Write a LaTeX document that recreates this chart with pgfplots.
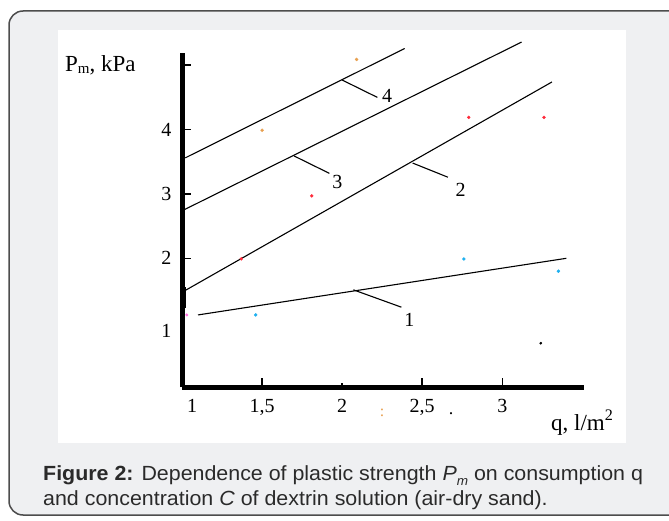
\documentclass[border=0pt]{standalone}
\usepackage{fontspec}
\setmainfont{Liberation Serif}
\newfontfamily\capfont{Liberation Sans}
\usepackage{pgfplots}
\pgfplotsset{compat=1.18}
\definecolor{panelgray}{HTML}{EFF0F2}
\definecolor{borderg}{HTML}{4D4D4D}
\definecolor{dotorange}{HTML}{E8A050}
\definecolor{dotred}{HTML}{FF2A3A}
\definecolor{dotcyan}{HTML}{1EB0F0}
\definecolor{dotpink}{HTML}{FF70E0}
\definecolor{captext}{HTML}{2A2A2A}
\begin{document}
\begin{tikzpicture}[x=1pt,y=1pt]
\useasboundingbox (0,0) rectangle (669,520);
\fill[white] (0,0) rectangle (669,520);
\begin{scope}
\clip (0,0) rectangle (669,520);
\draw[borderg, line width=1.5pt, fill=panelgray, rounded corners=14pt] (9,5) rectangle (720,509);
\end{scope}
\fill[white] (58,77) rectangle (626,490);
\begin{axis}[
  at={(182pt,133pt)}, anchor=south west,
  scale only axis, width=402pt, height=334pt,
  xmin=1, xmax=3.51, ymin=0, ymax=5.19,
  axis lines=left,
  axis line style={-, line width=5pt, black},
  clip=false,
  tick align=inside,
  major tick length=9pt,
  tick style={line width=1.5pt, black},
  xtick={1,1.5,2.5,3},
  xticklabels={\hspace*{20pt}1, 1{,}5, 2{,}5, 3},
  extra x ticks={2},
  extra x tick labels={2},
  extra x tick style={major tick length=4.5pt},
  ytick={2,3,4,5},
  yticklabels={2,3,4,{}},
  extra y ticks={1},
  extra y tick labels={1},
  extra y tick style={major tick length=0pt, yticklabel style={yshift=-8pt}},
  xticklabel style={font=\fontsize{20}{20}\selectfont, yshift=-9pt},
  yticklabel style={font=\fontsize{20}{20}\selectfont, xshift=-7pt},
]
% fitted lines
\addplot[black, line width=1.1pt] coordinates {(1.02,3.56) (2.39,5.26)};
\addplot[black, line width=1.1pt] coordinates {(1.01,2.75) (3.12,5.36)};
\addplot[black, line width=1.1pt] coordinates {(1.02,1.50) (3.31,4.74)};
\addplot[black, line width=1.1pt] coordinates {(1.10,1.12) (3.40,2.00)};
% thick blob on the axis
\addplot[black, line width=3pt] coordinates {(1.018,1.23) (1.018,1.55)};
% leader lines
\draw[line width=1.1pt] (axis cs:2.00,4.77) -- (axis cs:2.22,4.50);
\draw[line width=1.1pt] (axis cs:1.70,3.59) -- (axis cs:1.92,3.32);
\draw[line width=1.1pt] (axis cs:2.44,3.48) -- (axis cs:2.66,3.26);
\draw[line width=1.1pt] (axis cs:2.07,1.51) -- (axis cs:2.37,1.24);
\node[font=\fontsize{20}{20}\selectfont] at (axis cs:2.28,4.53) {4};
\node[font=\fontsize{20}{20}\selectfont] at (axis cs:1.97,3.18) {3};
\node[font=\fontsize{20}{20}\selectfont] at (axis cs:2.74,3.06) {2};
\node[font=\fontsize{20}{20}\selectfont] at (axis cs:2.42,1.04) {1};
% measured points
\addplot[only marks, mark=*, mark size=1.5pt, color=dotorange] coordinates {(2.09,5.09) (1.50,3.99)};
\addplot[only marks, mark=*, mark size=1.5pt, color=dotred] coordinates {(1.81,2.97) (2.79,4.19) (3.26,4.19) (1.37,1.99)};
\addplot[only marks, mark=*, mark size=1.5pt, color=dotcyan] coordinates {(1.46,1.12) (2.76,1.99) (3.35,1.80)};
\addplot[only marks, mark=*, mark size=1.3pt, color=dotpink] coordinates {(1.03,1.12)};
\addplot[only marks, mark=*, mark size=1.2pt, color=black] coordinates {(3.24,0.68)};
% stray specks below the axis
\node[text=dotorange, font=\fontsize{16}{16}\selectfont] at (axis cs:2.25,-0.40) {:};
\node[font=\fontsize{18}{18}\selectfont] at (axis cs:2.68,-0.42) {.};
\end{axis}
\node[anchor=base west, inner sep=0pt, font=\fontsize{23}{23}\selectfont] at (65,448) {P\raisebox{-0.15ex}{\fontsize{15}{15}\selectfont m}, kPa};
\node[anchor=base west, inner sep=0pt, font=\fontsize{23}{23}\selectfont] at (551,90) {q, l/m\textsuperscript{2}};
\node[anchor=base west, inner sep=0pt, text=captext, font=\capfont\fontsize{20.5}{20.5}\selectfont] at (43,40)
  {\scalebox{1.044}[1]{\textbf{Figure 2:} Dependence of plastic strength \textit{P}\raisebox{-0.55ex}{\fontsize{13}{13}\selectfont\textit{m}} on consumption q}};
\node[anchor=base west, inner sep=0pt, text=captext, font=\capfont\fontsize{20.5}{20.5}\selectfont] at (43,15)
  {\scalebox{1.044}[1]{and concentration \textit{C} of dextrin solution (air-dry sand).}};
\end{tikzpicture}
\end{document}
